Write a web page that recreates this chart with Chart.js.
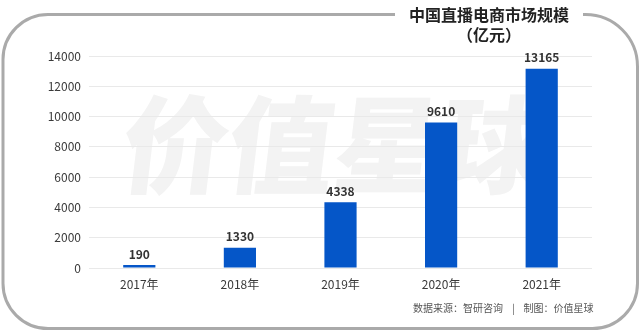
<!DOCTYPE html>
<html><head><meta charset="utf-8">
<script src="https://cdn.jsdelivr.net/npm/chart.js@4/dist/chart.umd.min.js"></script>
<style>
html,body{margin:0;padding:0;background:#fff;}
#wrap{position:relative;width:640px;height:332px;}
canvas{position:absolute;left:0;top:0;}
.title{position:absolute;left:395px;width:188px;text-align:center;font-family:"Noto Sans CJK SC";font-weight:700;color:#222;font-size:16px;line-height:20px;top:4px;}
.foot{position:absolute;left:413px;top:300px;font-family:"Noto Sans CJK SC";font-size:10px;color:#555;white-space:pre;}
</style></head><body>
<div id="wrap">
<canvas id="c" width="640" height="332"></canvas>
<div class="title">中国直播电商市场规模<br>（亿元）</div>
<div class="foot">数据来源：智研咨询    |    制图：价值星球</div>
</div>
<script>
const categories = ["2017年","2018年","2019年","2020年","2021年"];
const marketSize = [190, 1330, 4338, 9610, 13165];
const yTicks = [0,2000,4000,6000,8000,10000,12000,14000];

const FONT = '"Noto Sans CJK SC", "Noto Sans", sans-serif';

const framePlugin = {
  id:'frame',
  beforeDraw(chart){
    const ctx = chart.ctx;
    ctx.save();
    ctx.fillStyle='#fff';ctx.fillRect(0,0,640,332);
    // watermark
    ctx.save();
    ctx.fillStyle='#f3f3f3';
    ctx.font='900 106px '+FONT;
    ctx.textAlign='center';ctx.textBaseline='middle';
    ctx.translate(335,145);
    ctx.transform(1,0,-0.12,1,0,0);
    ctx.fillText('价值星球',0,0);
    ctx.restore();
    // frame
    ctx.strokeStyle='#aaaaaa';ctx.lineWidth=3;
    const L=3,T=14.5,R=637.5,B=328.5,r1=45,r2=52,r3=45,r4=45;
    ctx.beginPath();
    ctx.moveTo(395,T);
    ctx.lineTo(L+r1,T);
    ctx.arcTo(L,T,L,T+r1,r1);
    ctx.lineTo(L,B-r4);
    ctx.arcTo(L,B,L+r4,B,r4);
    ctx.lineTo(R-r3,B);
    ctx.arcTo(R,B,R,B-r3,r3);
    ctx.lineTo(R,T+r2);
    ctx.arcTo(R,T,R-r2,T,r2);
    ctx.lineTo(583,T);
    ctx.stroke();
    ctx.restore();
  }
};
const labelPlugin = {
  id:'vals',
  afterDatasetsDraw(chart){
    const ctx=chart.ctx;
    const meta=chart.getDatasetMeta(0);
    ctx.save();
    ctx.font='700 12px '+FONT;ctx.fillStyle='#333';
    ctx.textAlign='center';ctx.textBaseline='bottom';
    meta.data.forEach((bar,i)=>{
      ctx.fillText(String(marketSize[i]),bar.x,bar.y-5);
    });
    ctx.restore();
  }
};

new Chart(document.getElementById('c'),{
  type:'bar',
  data:{labels:categories,datasets:[{data:marketSize,backgroundColor:'#0556c8',barPercentage:0.32,categoryPercentage:1}]},
  options:{
    responsive:false,animation:false,
    layout:{padding:{top:56,right:48,left:0,bottom:0}},
    plugins:{legend:{display:false},tooltip:{enabled:false}},
    scales:{
      x:{grid:{display:false,drawTicks:false},border:{display:false},
         ticks:{font:{family:FONT,size:12},color:'#3a3a3a',padding:9},
         afterFit(s){s.height=64;}},
      y:{min:0,max:14000,
         afterBuildTicks(s){s.ticks=yTicks.map(v=>({value:v}));},
         grid:{color:'#e9e9e9',drawTicks:false,lineWidth:1},border:{display:false},
         ticks:{font:{family:FONT,size:12},color:'#3a3a3a',padding:8,callback:v=>String(v)},
         afterFit(s){s.width=89;}}
    }
  },
  plugins:[framePlugin,labelPlugin]
});
</script>
</body></html>
